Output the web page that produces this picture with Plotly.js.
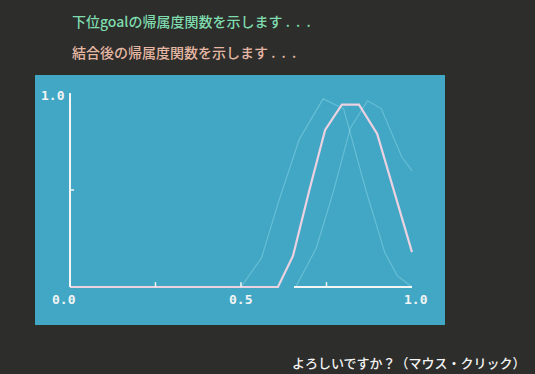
<!DOCTYPE html>
<html>
<head>
<meta charset="utf-8">
<script src="https://cdn.plot.ly/plotly-3.0.1.min.js"></script>
<style>
html,body{margin:0;padding:0;background:#2d2d2b;}
#chart{width:535px;height:374px;}
</style>
</head>
<body>
<div id="chart"></div>
<script>
// Combined (after merging) membership function
const combinedX = [0.0, 0.608, 0.652, 0.70, 0.746, 0.795, 0.845, 0.898, 1.0];
const combinedY = [0.0, 0.0, 0.16, 0.50, 0.81, 0.94, 0.94, 0.79, 0.18];
// Lower goal membership functions (faint)
const goalAX = [0.50, 0.56, 0.61, 0.67, 0.74, 0.80, 0.865, 0.92, 0.956, 1.0];
const goalAY = [0.0, 0.15, 0.44, 0.76, 0.97, 0.92, 0.50, 0.18, 0.06, 0.0];
const goalBX = [0.66, 0.72, 0.77, 0.82, 0.87, 0.91, 0.97, 1.0];
const goalBY = [0.0, 0.20, 0.49, 0.82, 0.96, 0.92, 0.67, 0.60];
// Axis tick labels
const xTickVals = [0, 0.5, 1.0];
const xTickText = ['0.0', '0.5', '1.0'];
const xMinorTicks = [0.25, 0.5, 0.75];
const yTickVals = [1.0];
const yTickText = ['1.0'];
const yMinorTicks = [0.5];
// Screen messages
const line1 = '下位goalの帰属度関数を示します&nbsp;.&nbsp;&nbsp;.&nbsp;&nbsp;.';
const line2 = '結合後の帰属度関数を示します&nbsp;.&nbsp;&nbsp;.&nbsp;&nbsp;.';
const prompt = 'よろしいですか？（マウス・クリック）';

const faint = {color: 'rgba(165,228,240,0.38)', width: 1.2};
const traces = [
  {x: goalAX, y: goalAY, mode: 'lines', line: faint, hoverinfo: 'skip'},
  {x: goalBX, y: goalBY, mode: 'lines', line: faint, hoverinfo: 'skip'},
  {x: combinedX, y: combinedY, mode: 'lines', line: {color: '#ecd2e0', width: 2.2}, hoverinfo: 'skip'}
];

const axisLine = {color: '#f4f6f6', width: 2};
const shapes = [
  {type: 'line', xref: 'x', yref: 'y', x0: 0, x1: 0, y0: 0, y1: 1, line: axisLine},
  {type: 'line', xref: 'x', yref: 'y', x0: 0.655, x1: 1.0, y0: 0, y1: 0, line: axisLine}
];
xMinorTicks.forEach(v => shapes.push({type: 'line', xref: 'x', yref: 'y', x0: v, x1: v, y0: 0, y1: 0.025, line: {color: '#f4f6f6', width: 1.5}}));
yMinorTicks.forEach(v => shapes.push({type: 'line', xref: 'x', yref: 'y', x0: 0, x1: 0.012, y0: v, y1: v, line: {color: '#f4f6f6', width: 1.5}}));

const monoFont = {family: 'DejaVu Sans Mono', size: 13, color: '#f2f4f4', weight: 'bold'};
const annotations = [];
xTickVals.forEach((v, i) => annotations.push({
  x: v, y: -0.067, xref: 'x', yref: 'y', text: '<b>' + xTickText[i] + '</b>', showarrow: false,
  font: monoFont, xanchor: 'center', yanchor: 'middle', xshift: i === 0 ? -6 : (i === 2 ? 4 : 0)
}));
yTickVals.forEach((v, i) => annotations.push({
  x: 0, y: v, xref: 'x', yref: 'y', text: '<b>' + yTickText[i] + '</b>', showarrow: false,
  font: monoFont, xanchor: 'right', yanchor: 'middle', xshift: -3, yshift: -2
}));
const jp = 'Noto Sans CJK JP';
annotations.push({x: 70, y: 21, xref: 'paper', yref: 'paper', text: line1, showarrow: false,
  font: {family: jp, size: 14, color: '#7fdcae', weight: 500}, xanchor: 'left', yanchor: 'middle'});
annotations.push({x: 70, y: 52, xref: 'paper', yref: 'paper', text: line2, showarrow: false,
  font: {family: jp, size: 14, color: '#e6b8a4', weight: 500}, xanchor: 'left', yanchor: 'middle'});
annotations.push({x: 528, y: 362, xref: 'paper', yref: 'paper', text: prompt, showarrow: false,
  font: {family: jp, size: 13, color: '#f4f4f4', weight: 500}, xanchor: 'right', yanchor: 'middle'});

// Convert pixel positions of the screen texts to paper coordinates
const W = 535, H = 374, mL = 35, mR = 90, mT = 75, mB = 49;
const pw = W - mL - mR, ph = H - mT - mB;
annotations.forEach(a => {
  if (a.xref === 'paper') {
    a.x = (a.x - mL) / pw;
    a.y = 1 - (a.y - mT) / ph;
  }
});

const layout = {
  width: W, height: H,
  margin: {l: mL, r: mR, t: mT, b: mB, pad: 0},
  paper_bgcolor: '#2d2d2b',
  plot_bgcolor: '#41a7c5',
  showlegend: false,
  xaxis: {range: [-0.1023, 1.0965], showgrid: false, zeroline: false, showticklabels: false, ticks: '', showline: false, fixedrange: true},
  yaxis: {range: [-0.196, 1.093], showgrid: false, zeroline: false, showticklabels: false, ticks: '', showline: false, fixedrange: true},
  shapes: shapes,
  annotations: annotations
};

Plotly.newPlot('chart', traces, layout, {displayModeBar: false, staticPlot: true});
</script>
</body>
</html>
